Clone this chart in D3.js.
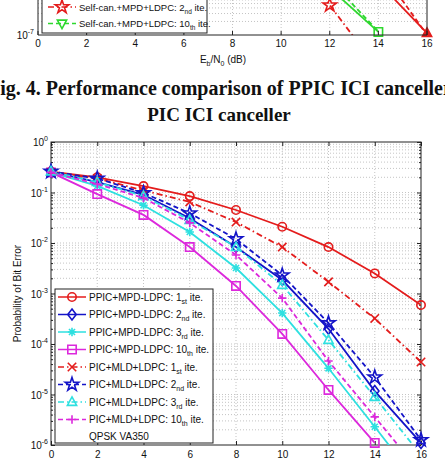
<!DOCTYPE html>
<html>
<head>
<meta charset="utf-8">
<script src="https://cdn.jsdelivr.net/npm/d3@7"></script>
<style>
  body { margin: 0; background: #fff; }
  svg { display: block; }
  text { font-family: "Liberation Sans", Arial, sans-serif; fill: #111; }
  .caption { font-family: "Liberation Serif", "Times New Roman", serif; font-weight: bold; }
</style>
</head>
<body>
<div id="chart-area"></div>
<script>
// ---- data: main chart (BER vs Eb/N0) ----
var snrDb = [0, 2, 4, 6, 8, 10, 12, 14, 16];
var ppicIte1  = [0.26, 0.20, 0.134, 0.085, 0.045, 0.021, 0.0083, 0.0025, 0.00059];
var ppicIte2  = [0.26, 0.16, 0.090, 0.031, 0.0083, 0.00185, 0.00020, 1.17e-5, 1.1e-6];
var ppicIte3  = [0.25, 0.135, 0.056, 0.0165, 0.0032, 0.00041, 3.3e-5, 2.3e-6, 1.5e-7];
var ppicIte10 = [0.25, 0.093, 0.036, 0.0083, 0.00141, 0.000158, 1.23e-5, 1.1e-6];
var picIte1   = [0.25, 0.19, 0.110, 0.065, 0.026, 0.0083, 0.0017, 0.00032, 4.4e-5];
var picIte2   = [0.26, 0.19, 0.098, 0.039, 0.012, 0.0023, 0.00026, 2.2e-5, 1.26e-6];
var picIte3   = [0.26, 0.16, 0.085, 0.0285, 0.0083, 0.00147, 0.00012, 8.9e-6, 6.3e-7];
var picIte10  = [0.25, 0.147, 0.078, 0.025, 0.0058, 0.00081, 4.6e-5, 3.6e-6, 2.8e-7];

var xTicks = [0, 2, 4, 6, 8, 10, 12, 14, 16];
var yExponents = [0, -1, -2, -3, -4, -5, -6];

var legendNames = [
  ["PPIC+MPD-LDPC: 1", "st", " ite."],
  ["PPIC+MPD-LDPC: 2", "nd", " ite."],
  ["PPIC+MPD-LDPC: 3", "rd", " ite."],
  ["PPIC+MPD-LDPC: 10", "th", " ite."],
  ["PIC+MLD+LDPC: 1", "st", " ite."],
  ["PIC+MLD+LDPC: 2", "nd", " ite."],
  ["PIC+MLD+LDPC: 3", "rd", " ite."],
  ["PIC+MLD+LDPC: 10", "th", " ite."]
];
var legendNote = "QPSK VA350";

// ---- data: bottom of previous figure (cropped at top of the page) ----
var prevSelfCan2X = [10, 12, 14];
var prevSelfCan2Ber = [1.23e-5, 4.6e-7, 1.7e-8];
var prevGreenX = [12, 14];
var prevGreenSolidBer = [1.1e-6, 1.17e-7];
var prevGreenDashBer = [1.65e-6, 1.2e-7];
var prevRedX = [14, 16];
var prevRedSolidBer = [1.47e-6, 1.1e-7];
var prevRedDashBer = [3.3e-6, 1.0e-7];
var prevLegendNames = [
  ["Self-can.+MPD+LDPC: 2", "nd", " ite."],
  ["Self-can.+MPD+LDPC: 10", "th", " ite."]
];

var captionLines = ["Fig. 4. Performance comparison of PPIC ICI canceller", "PIC ICI canceller"];

// ---- colours (matlab-ish) ----
var RED = "#e41c1c", BLUE = "#1414c8", CYAN = "#2ee0e0", MAG = "#dc28dc", GREEN = "#2ed82e";

var svg = d3.select("#chart-area").append("svg")
  .attr("width", 445).attr("height", 459);

// marker paths
function markerPath(type, s) {
  switch (type) {
    case "circle": return d3.symbol(d3.symbolCircle, Math.PI * s * s)();
    case "square": return "M" + (-s) + "," + (-s) + "H" + s + "V" + s + "H" + (-s) + "Z";
    case "diamond": return "M0," + (-s * 1.3) + "L" + s + ",0L0," + (s * 1.3) + "L" + (-s) + ",0Z";
    case "star": return d3.symbol(d3.symbolStar, s * s * 3.2)();
    case "triangle": return "M0," + (-s * 1.2) + "L" + (s * 1.1) + "," + (s * 0.8) + "L" + (-s * 1.1) + "," + (s * 0.8) + "Z";
    case "triDown": return "M0," + (s * 1.2) + "L" + (s * 1.1) + "," + (-s * 0.8) + "L" + (-s * 1.1) + "," + (-s * 0.8) + "Z";
    case "x": return "M" + (-s) + "," + (-s) + "L" + s + "," + s + "M" + (-s) + "," + s + "L" + s + "," + (-s);
    case "plus": return "M" + (-s) + ",0H" + s + "M0," + (-s) + "V" + s;
    case "asterisk": var d = s * 0.72;
      return "M" + (-s) + ",0H" + s + "M0," + (-s) + "V" + s +
        "M" + (-d) + "," + (-d) + "L" + d + "," + d + "M" + (-d) + "," + d + "L" + d + "," + (-d);
  }
}

// ================== top crop: previous figure ==================
var px = d3.scaleLinear().domain([0, 16]).range([38, 427]);
var py = d3.scaleLog().domain([1e-7, 1e-6]).range([35, -10]);

svg.append("clipPath").attr("id", "clipPrev")
  .append("rect").attr("x", 38).attr("y", -200).attr("width", 389).attr("height", 235);

var gp = svg.append("g");
// grid
gp.selectAll(".pgx").data(xTicks.slice(1, -1)).enter().append("line")
  .attr("x1", d => px(d)).attr("x2", d => px(d)).attr("y1", 0).attr("y2", 35)
  .attr("stroke", "#aaa").attr("stroke-width", 0.7).attr("stroke-dasharray", "1,2");
gp.selectAll(".pgy").data(py.ticks().filter(v => v > 1.05e-7)).enter().append("line")
  .attr("x1", 38).attr("x2", 427).attr("y1", d => py(d)).attr("y2", d => py(d))
  .attr("stroke", "#aaa").attr("stroke-width", 0.7).attr("stroke-dasharray", "1,2");

var prevSeries = [
  { x: prevSelfCan2X, v: prevSelfCan2Ber, color: RED, dash: "6,3,1.5,3", marker: "star", markAt: [12] },
  { x: prevGreenX, v: prevGreenSolidBer, color: GREEN, dash: null, marker: "square", markAt: [14] },
  { x: prevGreenX, v: prevGreenDashBer, color: GREEN, dash: "5,3", marker: null, markAt: [] },
  { x: prevRedX, v: prevRedSolidBer, color: RED, dash: null, marker: null, markAt: [] },
  { x: prevRedX, v: prevRedDashBer, color: RED, dash: "5,3", marker: "triangleFill", markAt: [16] }
];
var pline = d3.line().x(d => px(d[0])).y(d => py(d[1]));
prevSeries.forEach(function (s) {
  var pts = s.x.map((xv, i) => [xv, s.v[i]]);
  gp.append("path").attr("d", pline(pts)).attr("clip-path", "url(#clipPrev)")
    .attr("fill", "none").attr("stroke", s.color).attr("stroke-width", 1.8)
    .attr("stroke-dasharray", s.dash);
  pts.filter(p => s.markAt.indexOf(p[0]) >= 0).forEach(function (p) {
    var filled = s.marker === "triangleFill";
    gp.append("path")
      .attr("d", markerPath(filled ? "triangle" : s.marker, 4.2))
      .attr("transform", "translate(" + px(p[0]) + "," + Math.min(py(p[1]), 33) + ")")
      .attr("fill", filled ? s.color : "none").attr("stroke", s.color).attr("stroke-width", 1.6);
  });
});

// axes of previous figure
gp.append("line").attr("x1", 38).attr("x2", 427).attr("y1", 35).attr("y2", 35).attr("stroke", "#222");
gp.append("line").attr("x1", 38).attr("x2", 38).attr("y1", 0).attr("y2", 35).attr("stroke", "#222");
gp.append("line").attr("x1", 427).attr("x2", 427).attr("y1", 0).attr("y2", 35).attr("stroke", "#222");
gp.selectAll(".ptk").data(xTicks).enter().append("line")
  .attr("x1", d => px(d)).attr("x2", d => px(d)).attr("y1", 35).attr("y2", 31).attr("stroke", "#222");
gp.selectAll(".ptl").data(xTicks).enter().append("text")
  .attr("x", d => px(d)).attr("y", 47).attr("text-anchor", "middle")
  .attr("font-size", 10).text(d => d);
var p7 = gp.append("text").attr("x", 34).attr("y", 39).attr("text-anchor", "end").attr("font-size", 10);
p7.append("tspan").text("10");
p7.append("tspan").attr("dy", -5).attr("font-size", 7).text("-7");
var xl = gp.append("text").attr("x", 223).attr("y", 63).attr("text-anchor", "middle").attr("font-size", 10);
xl.append("tspan").text("E");
xl.append("tspan").attr("dy", 3).attr("font-size", 7).text("b");
xl.append("tspan").attr("dy", -3).text("/N");
xl.append("tspan").attr("dy", 3).attr("font-size", 7).text("0");
xl.append("tspan").attr("dy", -3).text(" (dB)");

// legend of previous figure
gp.append("rect").attr("x", 42).attr("y", -20).attr("width", 165).attr("height", 53)
  .attr("fill", "#fff").attr("stroke", "#222").attr("stroke-width", 1);
var prevLegStyle = [{ color: RED, dash: "6,3,1.5,3", marker: "star" }, { color: GREEN, dash: "5,3", marker: "triDown" }];
prevLegendNames.forEach(function (n, i) {
  var yy = 7 + i * 16.5;
  var st = prevLegStyle[i];
  gp.append("line").attr("x1", 48).attr("x2", 76).attr("y1", yy).attr("y2", yy)
    .attr("stroke", st.color).attr("stroke-width", 1.5).attr("stroke-dasharray", st.dash);
  gp.append("path").attr("d", markerPath(st.marker, 4.2)).attr("transform", "translate(62," + yy + ")")
    .attr("fill", "none").attr("stroke", st.color).attr("stroke-width", 1.6);
  var t = gp.append("text").attr("x", 79).attr("y", yy + 3.5).attr("font-size", 9.5);
  t.append("tspan").text(n[0]);
  t.append("tspan").attr("dy", 3).attr("font-size", 6.5).text(n[1]);
  t.append("tspan").attr("dy", -3).text(n[2]);
});

// ================== caption ==================
svg.append("text").attr("class", "caption").attr("x", -12).attr("y", 95)
  .attr("font-size", 20).text(captionLines[0]);
svg.append("text").attr("class", "caption").attr("x", 219).attr("y", 120.5)
  .attr("font-size", 19).attr("text-anchor", "middle").text(captionLines[1]);

// ================== main chart ==================
var x = d3.scaleLinear().domain([0, 16]).range([51, 421]);
var y = d3.scaleLog().domain([1e-6, 1]).range([445, 142]);

var g = svg.append("g");
svg.append("clipPath").attr("id", "clipMain")
  .append("rect").attr("x", 51).attr("y", 142).attr("width", 370).attr("height", 303);

// grid
g.selectAll(".gx").data(xTicks.slice(1, -1)).enter().append("line")
  .attr("x1", d => x(d)).attr("x2", d => x(d)).attr("y1", 142).attr("y2", 445)
  .attr("stroke", "#aaa").attr("stroke-width", 0.7).attr("stroke-dasharray", "1,2");
g.selectAll(".gy").data(y.ticks().filter(v => v > 1e-6 && v < 1)).enter().append("line")
  .attr("x1", 51).attr("x2", 421).attr("y1", d => y(d)).attr("y2", d => y(d))
  .attr("stroke", "#aaa").attr("stroke-width", 0.7).attr("stroke-dasharray", "1,2");

// axes with inward ticks
var minorTicks = y.ticks().filter(v => Math.abs(Math.log10(v) - Math.round(Math.log10(v))) > 1e-6);
var majorTicks = yExponents.map(e => Math.pow(10, e));
g.append("g").attr("transform", "translate(0,445)")
  .call(d3.axisBottom(x).tickValues(xTicks).tickSize(-4).tickPadding(5.5).tickFormat(d => d))
  .call(a => a.select(".domain").remove())
  .call(a => a.selectAll("text").attr("font-size", 10).attr("font-family", null));
g.append("g").attr("transform", "translate(0,142)")
  .call(d3.axisTop(x).tickValues(xTicks).tickSize(-4).tickFormat(""))
  .call(a => a.select(".domain").remove());
[[51, d3.axisLeft], [421, d3.axisRight]].forEach(function (ax) {
  g.append("g").attr("transform", "translate(" + ax[0] + ",0)")
    .call(ax[1](y).tickValues(majorTicks).tickSize(-4).tickFormat(""))
    .call(a => a.select(".domain").remove());
  g.append("g").attr("transform", "translate(" + ax[0] + ",0)")
    .call(ax[1](y).tickValues(minorTicks).tickSize(-2).tickFormat(""))
    .call(a => a.select(".domain").remove());
});
g.selectAll(".tick line").attr("stroke", "#222");
g.append("rect").attr("x", 51).attr("y", 142).attr("width", 370).attr("height", 303)
  .attr("fill", "none").attr("stroke", "#222").attr("stroke-width", 1);

// y tick labels 10^e
yExponents.forEach(function (e) {
  var t = g.append("text").attr("x", 48).attr("y", y(Math.pow(10, e)) + 4)
    .attr("text-anchor", "end").attr("font-size", 10);
  t.append("tspan").text("10");
  t.append("tspan").attr("dy", -5).attr("font-size", 7).text(e === 0 ? "0" : String(e));
});
g.append("text").attr("transform", "translate(21,293.5) rotate(-90)")
  .attr("text-anchor", "middle").attr("font-size", 10).text("Probability of Bit Error");

// series
var series = [
  { v: ppicIte1, color: RED, dash: null, marker: "circle" },
  { v: ppicIte2, color: BLUE, dash: null, marker: "diamond" },
  { v: ppicIte3, color: CYAN, dash: null, marker: "asterisk" },
  { v: ppicIte10, color: MAG, dash: null, marker: "square" },
  { v: picIte1, color: RED, dash: "6,3,1.5,3", marker: "x" },
  { v: picIte2, color: BLUE, dash: "5,3", marker: "star" },
  { v: picIte3, color: CYAN, dash: "6,3,1.5,3", marker: "triangle" },
  { v: picIte10, color: MAG, dash: "5,3", marker: "plus" }
];
var line = d3.line().x(d => x(d[0])).y(d => y(d[1]));
series.forEach(function (s) {
  var pts = s.v.map((v, i) => [snrDb[i], v]);
  g.append("path").attr("d", line(pts)).attr("clip-path", "url(#clipMain)")
    .attr("fill", "none").attr("stroke", s.color).attr("stroke-width", 1.8)
    .attr("stroke-dasharray", s.dash);
  g.selectAll(null).data(pts.filter(p => p[1] >= 1e-6)).enter().append("path")
    .attr("d", markerPath(s.marker, 4.2))
    .attr("transform", p => "translate(" + x(p[0]) + "," + y(p[1]) + ")")
    .attr("fill", "none").attr("stroke", s.color).attr("stroke-width", 1.6);
});

// legend
g.append("rect").attr("x", 55).attr("y", 289).attr("width", 158).attr("height", 154)
  .attr("fill", "#fff").attr("stroke", "#222").attr("stroke-width", 1);
legendNames.forEach(function (n, i) {
  var s = series[i];
  var yy = 297 + i * 17.5;
  g.append("line").attr("x1", 58).attr("x2", 86).attr("y1", yy).attr("y2", yy)
    .attr("stroke", s.color).attr("stroke-width", 1.5).attr("stroke-dasharray", s.dash);
  g.append("path").attr("d", markerPath(s.marker, 4.2)).attr("transform", "translate(72," + yy + ")")
    .attr("fill", "none").attr("stroke", s.color).attr("stroke-width", 1.6);
  var t = g.append("text").attr("x", 89).attr("y", yy + 3.5).attr("font-size", 10);
  t.append("tspan").text(n[0]);
  t.append("tspan").attr("dy", 3).attr("font-size", 7).text(n[1]);
  t.append("tspan").attr("dy", -3).text(n[2]);
});
g.append("text").attr("x", 89).attr("y", 440).attr("font-size", 10).text(legendNote);
</script>
</body>
</html>
